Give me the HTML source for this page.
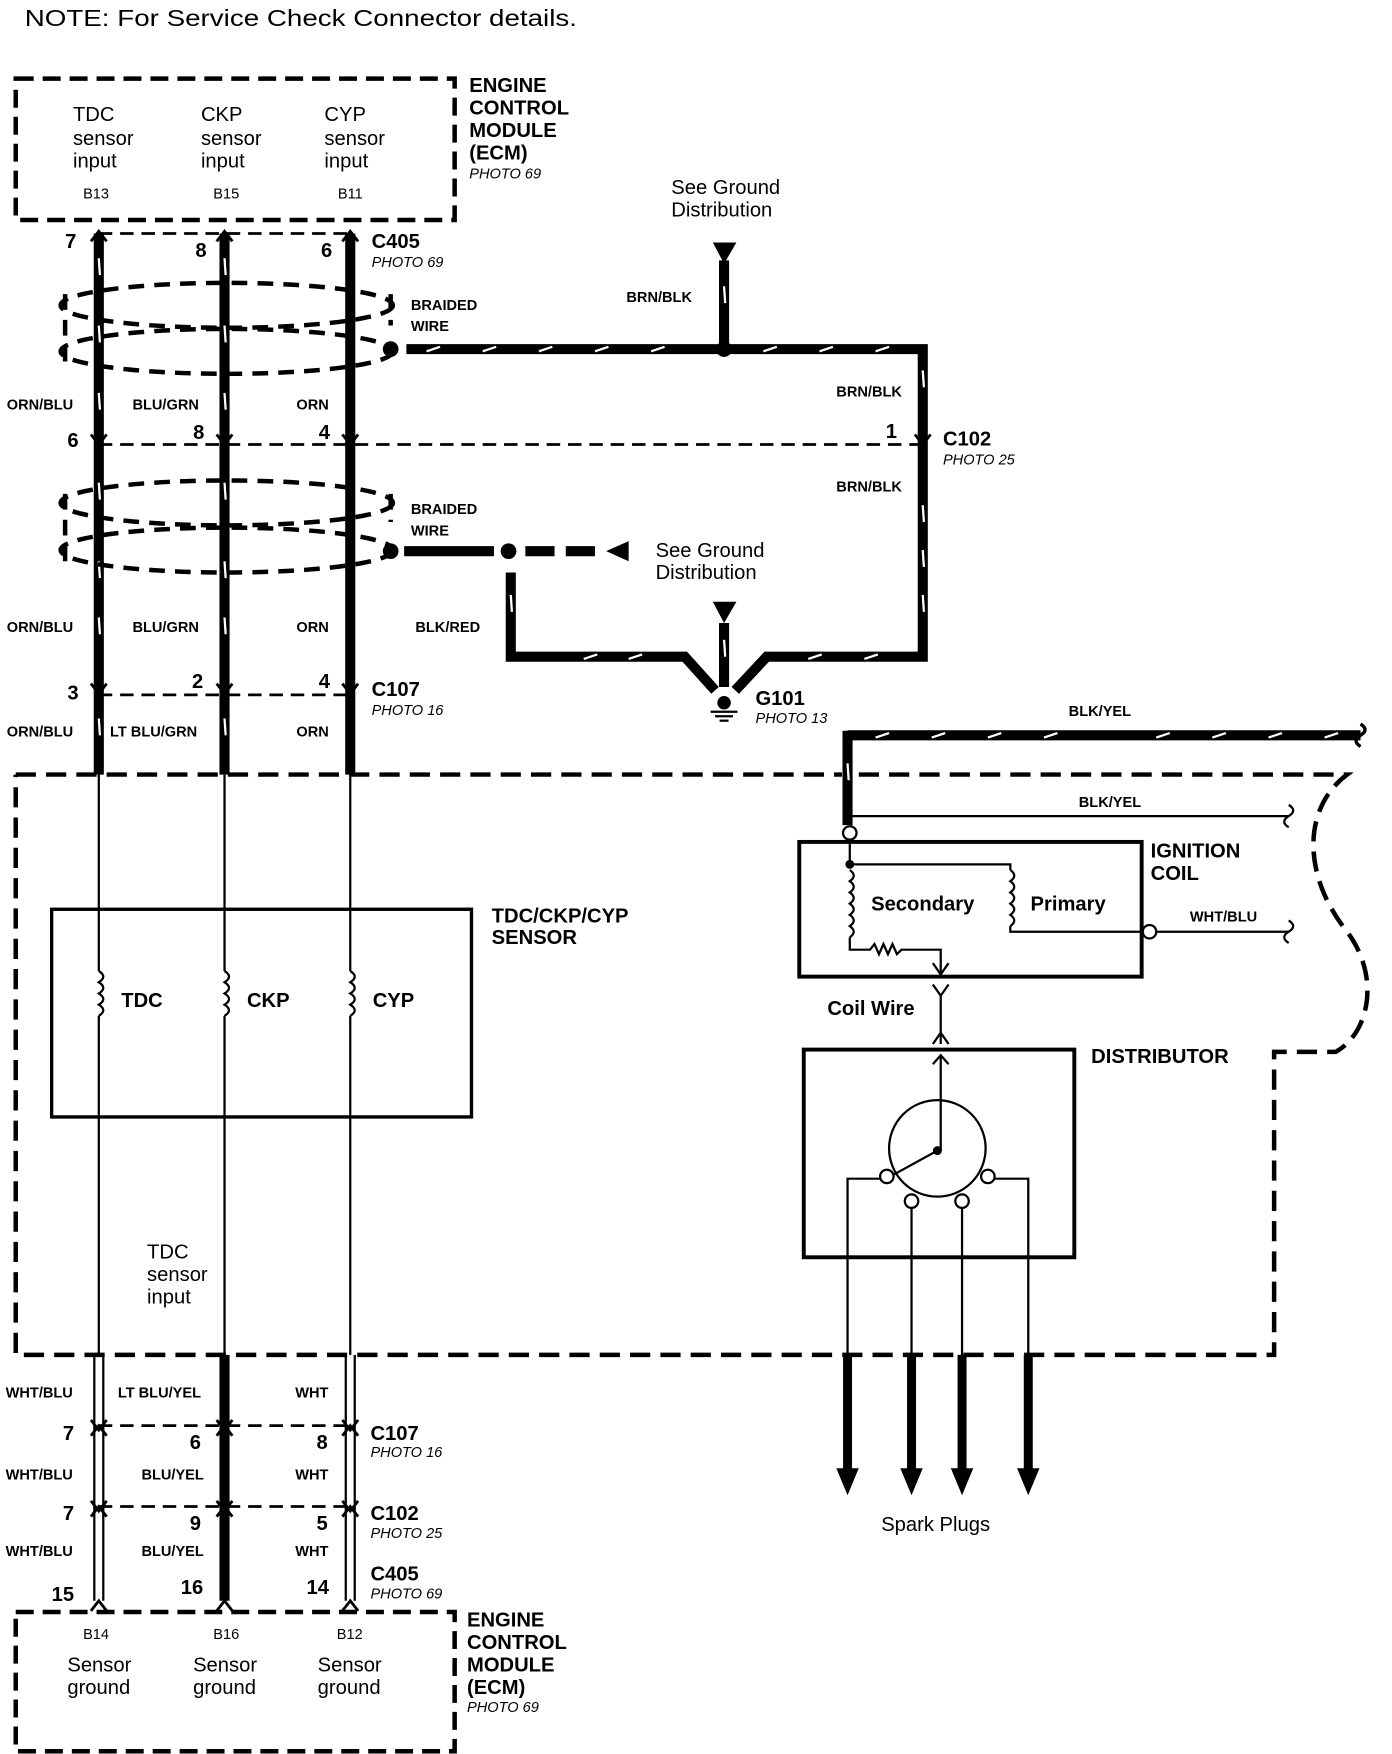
<!DOCTYPE html>
<html><head><meta charset="utf-8"><style>
html,body{margin:0;padding:0;background:#fff;}
svg{display:block;}
text{font-family:"Liberation Sans",Arial,sans-serif;fill:#000;}
.b{font-weight:bold;}
.i{font-style:italic;font-size:13px;}
.s{font-size:18px;}
.l{font-size:13px;font-weight:bold;}
.h{font-size:18px;font-weight:bold;}
</style></head><body>
<svg width="1392" height="1754" viewBox="0 0 1240 1562.5" xmlns="http://www.w3.org/2000/svg">
<defs>
<g id="rc"><path d="M-7,-9 L0,0 L7,-9" fill="none" stroke="#000" stroke-width="2.5"/></g>
<g id="rcu"><path d="M-7,9 L0,0 L7,9" fill="none" stroke="#000" stroke-width="2.5"/></g>
</defs>
<text x="22" y="23" style="font-size:21px" textLength="492" lengthAdjust="spacingAndGlyphs">NOTE: For Service Check Connector details.</text>

<!-- top ECM -->
<rect x="14" y="70" width="391" height="126" fill="none" stroke="#000" stroke-width="4" stroke-dasharray="16,8"/>
<g class="s">
<text x="65" y="108">TDC</text><text x="65" y="129">sensor</text><text x="65" y="149">input</text>
<text x="179" y="108">CKP</text><text x="179" y="129">sensor</text><text x="179" y="149">input</text>
<text x="289" y="108">CYP</text><text x="289" y="129">sensor</text><text x="289" y="149">input</text>
</g>
<text x="74" y="177" style="font-size:13px">B13</text><text x="190" y="177" style="font-size:13px">B15</text><text x="301" y="177" style="font-size:13px">B11</text>
<g class="h"><text x="418" y="82">ENGINE</text><text x="418" y="102">CONTROL</text><text x="418" y="122">MODULE</text><text x="418" y="142">(ECM)</text></g>
<text x="418" y="159" class="i">PHOTO 69</text>

<!-- thick wires top -->
<g stroke="#000" stroke-width="9">
<line x1="88" y1="208" x2="88" y2="690"/><line x1="200" y1="208" x2="200" y2="690"/><line x1="312" y1="208" x2="312" y2="690"/>
</g>
<g stroke="#fff" stroke-width="2">
<line x1="88" y1="230" x2="89" y2="245"/><line x1="88" y1="290" x2="89" y2="305"/><line x1="88" y1="350" x2="89" y2="365"/><line x1="88" y1="430" x2="89" y2="445"/><line x1="88" y1="500" x2="89" y2="515"/><line x1="88" y1="550" x2="89" y2="565"/><line x1="88" y1="640" x2="89" y2="655"/>
<line x1="200" y1="230" x2="201" y2="245"/><line x1="200" y1="290" x2="201" y2="305"/><line x1="200" y1="350" x2="201" y2="365"/><line x1="200" y1="430" x2="201" y2="445"/><line x1="200" y1="500" x2="201" y2="515"/><line x1="200" y1="550" x2="201" y2="565"/><line x1="200" y1="640" x2="201" y2="655"/>
</g>
<!-- connectors -->
<g stroke="#000" stroke-width="2.5" stroke-dasharray="12,7" fill="none">
<line x1="88" y1="208" x2="312" y2="208"/>
<line x1="88" y1="396" x2="822" y2="396"/>
<line x1="88" y1="619" x2="312" y2="619"/>
<line x1="88" y1="1270" x2="312" y2="1270"/>
<line x1="88" y1="1342" x2="312" y2="1342"/>
</g>
<use href="#rcu" x="88" y="206"/><use href="#rcu" x="200" y="206"/><use href="#rcu" x="312" y="206"/>
<use href="#rc" x="88" y="396"/><use href="#rc" x="200" y="396"/><use href="#rc" x="312" y="396"/><use href="#rc" x="822" y="396"/>
<use href="#rc" x="88" y="618"/><use href="#rc" x="200" y="618"/><use href="#rc" x="312" y="618"/>
<use href="#rcu" x="88" y="1270"/><use href="#rcu" x="200" y="1270"/><use href="#rcu" x="312" y="1270"/>
<use href="#rc" x="88" y="1274"/><use href="#rc" x="200" y="1274"/><use href="#rc" x="312" y="1274"/>
<use href="#rcu" x="88" y="1342"/><use href="#rcu" x="200" y="1342"/><use href="#rcu" x="312" y="1342"/>
<use href="#rc" x="88" y="1346"/><use href="#rc" x="200" y="1346"/><use href="#rc" x="312" y="1346"/>
<use href="#rcu" x="88" y="1426"/><use href="#rcu" x="200" y="1426"/><use href="#rcu" x="312" y="1426"/>

<g class="h">
<text x="58" y="221">7</text><text x="174" y="229">8</text><text x="286" y="229">6</text>
<text x="60" y="398">6</text><text x="172" y="391">8</text><text x="284" y="391">4</text><text x="789" y="390">1</text>
<text x="60" y="623">3</text><text x="171" y="613">2</text><text x="284" y="613">4</text>
<text x="56" y="1283">7</text><text x="169" y="1291">6</text><text x="282" y="1291">8</text>
<text x="56" y="1354">7</text><text x="169" y="1363">9</text><text x="282" y="1363">5</text>
<text x="46" y="1426">15</text><text x="161" y="1420">16</text><text x="273" y="1420">14</text>
<text x="331" y="221">C405</text><text x="840" y="397">C102</text><text x="331" y="620">C107</text><text x="673" y="628">G101</text>
<text x="330" y="1283">C107</text><text x="330" y="1354">C102</text><text x="330" y="1408">C405</text>
</g>
<text x="331" y="238" class="i">PHOTO 69</text><text x="840" y="414" class="i">PHOTO 25</text><text x="331" y="637" class="i">PHOTO 16</text><text x="673" y="644" class="i">PHOTO 13</text>
<text x="330" y="1298" class="i">PHOTO 16</text><text x="330" y="1370" class="i">PHOTO 25</text><text x="330" y="1424" class="i">PHOTO 69</text>

<!-- braids -->
<g fill="none" stroke="#000" stroke-width="4" stroke-dasharray="14,9">
<ellipse cx="202" cy="272" rx="148" ry="20"/><ellipse cx="202" cy="313" rx="148" ry="20"/>
<line x1="58" y1="262" x2="58" y2="322"/><line x1="348" y1="262" x2="348" y2="290"/>
<ellipse cx="202" cy="448" rx="148" ry="20"/><ellipse cx="202" cy="490" rx="148" ry="20"/>
<line x1="58" y1="440" x2="58" y2="500"/><line x1="348" y1="440" x2="348" y2="465"/>
</g>
<g class="l">
<text x="366" y="276">BRAIDED</text><text x="366" y="295">WIRE</text>
<text x="366" y="458">BRAIDED</text><text x="366" y="477">WIRE</text>
<text x="6" y="365">ORN/BLU</text><text x="118" y="365">BLU/GRN</text><text x="264" y="365">ORN</text>
<text x="6" y="563">ORN/BLU</text><text x="118" y="563">BLU/GRN</text><text x="264" y="563">ORN</text><text x="370" y="563">BLK/RED</text>
<text x="6" y="656">ORN/BLU</text><text x="98" y="656">LT BLU/GRN</text><text x="264" y="656">ORN</text>
<text x="558" y="269">BRN/BLK</text><text x="745" y="353">BRN/BLK</text><text x="745" y="438">BRN/BLK</text>
<text x="952" y="638">BLK/YEL</text><text x="961" y="719">BLK/YEL</text><text x="1060" y="821">WHT/BLU</text>
<text x="5" y="1245">WHT/BLU</text><text x="105" y="1245">LT BLU/YEL</text><text x="263" y="1245">WHT</text>
<text x="5" y="1318">WHT/BLU</text><text x="126" y="1318">BLU/YEL</text><text x="263" y="1318">WHT</text>
<text x="5" y="1386">WHT/BLU</text><text x="126" y="1386">BLU/YEL</text><text x="263" y="1386">WHT</text>
</g>

<!-- ground wires -->
<g fill="none" stroke="#000" stroke-width="9">
<polyline points="362,311 822,311 822,585 683,585 655,615"/>
<line x1="645" y1="311" x2="645" y2="232"/>
<line x1="360" y1="491" x2="440" y2="491"/>
<polyline points="455,510 455,585 610,585 637,615"/>
<line x1="645" y1="555" x2="645" y2="612"/>
<line x1="755" y1="655" x2="1212" y2="655"/>
<line x1="755" y1="651" x2="755" y2="735"/>
</g>
<line x1="468" y1="491" x2="540" y2="491" stroke="#000" stroke-width="9" stroke-dasharray="26,10"/>
<g stroke="#fff" stroke-width="2">
<line x1="380" y1="313" x2="392" y2="309"/><line x1="430" y1="313" x2="442" y2="309"/><line x1="480" y1="313" x2="492" y2="309"/><line x1="530" y1="313" x2="542" y2="309"/><line x1="580" y1="313" x2="592" y2="309"/><line x1="680" y1="313" x2="692" y2="309"/><line x1="730" y1="313" x2="742" y2="309"/><line x1="780" y1="313" x2="792" y2="309"/>
<line x1="822" y1="330" x2="823" y2="345"/><line x1="822" y1="450" x2="823" y2="465"/><line x1="822" y1="490" x2="823" y2="505"/><line x1="822" y1="530" x2="823" y2="545"/>
<line x1="645" y1="255" x2="646" y2="270"/><line x1="455" y1="530" x2="456" y2="545"/><line x1="645" y1="570" x2="646" y2="585"/>
<line x1="520" y1="587" x2="532" y2="583"/><line x1="560" y1="587" x2="572" y2="583"/><line x1="720" y1="587" x2="732" y2="583"/><line x1="770" y1="587" x2="782" y2="583"/>
<line x1="780" y1="657" x2="792" y2="653"/><line x1="830" y1="657" x2="842" y2="653"/><line x1="880" y1="657" x2="892" y2="653"/><line x1="930" y1="657" x2="942" y2="653"/><line x1="1030" y1="657" x2="1042" y2="653"/><line x1="1080" y1="657" x2="1092" y2="653"/><line x1="1130" y1="657" x2="1142" y2="653"/><line x1="1180" y1="657" x2="1192" y2="653"/>
<line x1="755" y1="680" x2="756" y2="695"/>
</g>
<path d="M1212,645 q8,5 0,10 q-8,5 0,10" fill="none" stroke="#000" stroke-width="3"/>
<circle cx="348" cy="311" r="7"/><circle cx="645" cy="311" r="7"/><circle cx="348" cy="491" r="7"/><circle cx="453" cy="491" r="7"/>
<polygon points="635,216 656,216 645,235"/><polygon points="540,491 560,482 560,500"/><polygon points="635,536 656,536 645,555"/>
<circle cx="645" cy="626" r="6"/>
<g stroke="#000" stroke-width="2"><line x1="633" y1="634" x2="657" y2="634"/><line x1="637" y1="638" x2="653" y2="638"/><line x1="641" y1="642" x2="649" y2="642"/></g>
<g style="font-size:18px"><text x="598" y="173">See Ground</text><text x="598" y="193">Distribution</text><text x="584" y="496">See Ground</text><text x="584" y="516">Distribution</text></g>

<!-- big dashed boundary -->
<path d="M14,690 L750,690 M765,690 L1200,690 C1160,720 1160,780 1200,830 C1230,870 1220,920 1190,937 L1135,937 L1135,1207 L14,1207 L14,690" fill="none" stroke="#000" stroke-width="4" stroke-dasharray="18,9"/>

<!-- thin wires through sensor area -->
<g stroke="#000" stroke-width="2" fill="none">
<line x1="88" y1="690" x2="88" y2="1207"/><line x1="200" y1="690" x2="200" y2="1207"/><line x1="312" y1="690" x2="312" y2="1207"/>
<line x1="84" y1="1207" x2="84" y2="1426"/><line x1="92" y1="1207" x2="92" y2="1426"/>
<line x1="308" y1="1207" x2="308" y2="1426"/><line x1="316" y1="1207" x2="316" y2="1426"/>
</g>
<line x1="200" y1="1207" x2="200" y2="1426" stroke="#000" stroke-width="9"/>
<rect x="46" y="810" width="374" height="185" fill="#fff" stroke="#000" stroke-width="3"/>
<g stroke="#000" stroke-width="2" fill="none">
<line x1="88" y1="810" x2="88" y2="865"/><path d="M88,865 q8,5 0,10 q8,5 0,10 q8,5 0,10 q8,5 0,10"/><line x1="88" y1="905" x2="88" y2="995"/>
<line x1="200" y1="810" x2="200" y2="865"/><path d="M200,865 q8,5 0,10 q8,5 0,10 q8,5 0,10 q8,5 0,10"/><line x1="200" y1="905" x2="200" y2="995"/>
<line x1="312" y1="810" x2="312" y2="865"/><path d="M312,865 q8,5 0,10 q8,5 0,10 q8,5 0,10 q8,5 0,10"/><line x1="312" y1="905" x2="312" y2="995"/>
</g>
<g class="h"><text x="108" y="897">TDC</text><text x="220" y="897">CKP</text><text x="332" y="897">CYP</text>
<text x="438" y="822">TDC/CKP/CYP</text><text x="438" y="841">SENSOR</text></g>
<g class="s"><text x="131" y="1121">TDC</text><text x="131" y="1141">sensor</text><text x="131" y="1161">input</text></g>

<!-- ignition coil -->
<g stroke="#000" stroke-width="2" fill="none">
<polyline points="757,727 1148,727"/>
<path d="M1148,717 q8,5 0,10 q-8,5 0,10"/>
<line x1="757" y1="748" x2="757" y2="770"/>
<polyline points="757,770 900,770 900,775"/>
<path d="M900,775 q7,5 0,10 q7,5 0,10 q7,5 0,10 q7,5 0,10 q7,5 0,10"/>
<polyline points="900,825 900,830 1018,830"/>
<line x1="1030" y1="830" x2="1148" y2="830"/>
<path d="M1148,820 q8,5 0,10 q-8,5 0,10"/>
<path d="M757,775 q7,5 0,10 q7,5 0,10 q7,5 0,10 q7,5 0,10 q7,5 0,10 q7,5 0,10"/>
<polyline points="757,835 757,846 775,846 779,841 783,850 787,841 791,850 795,841 799,850 803,846 838,846 838,868"/>
<polyline points="831,858 838,868 845,858"/>
<polyline points="831,877 838,887 845,877"/>
<line x1="838" y1="885" x2="838" y2="930"/>
<polyline points="831,930 838,920 845,930"/>
<line x1="838" y1="940" x2="838" y2="1025"/>
<polyline points="831,948 838,940 845,948"/>
<circle cx="835" cy="1023" r="43"/>
<line x1="835" y1="1025" x2="795" y2="1047"/>
<polyline points="755,1210 755,1050 784,1050"/>
<polyline points="916,1210 916,1050 886,1050"/>
<line x1="812" y1="1076" x2="812" y2="1210"/><line x1="857" y1="1076" x2="857" y2="1210"/>
</g>
<rect x="712" y="750" width="305" height="120" fill="none" stroke="#000" stroke-width="3.5"/>
<rect x="716" y="935" width="241" height="185" fill="none" stroke="#000" stroke-width="3.5"/>
<g fill="#fff" stroke="#000" stroke-width="2">
<circle cx="757" cy="742" r="6"/><circle cx="1024" cy="830" r="6"/>
<circle cx="790" cy="1048" r="6"/><circle cx="880" cy="1048" r="6"/><circle cx="812" cy="1070" r="6"/><circle cx="857" cy="1070" r="6"/>
</g>
<circle cx="757" cy="770" r="4"/><circle cx="835" cy="1025" r="4"/>
<g class="h"><text x="1025" y="764">IGNITION</text><text x="1025" y="784">COIL</text>
<text x="776" y="811">Secondary</text><text x="918" y="811">Primary</text>
<text x="737" y="904">Coil Wire</text><text x="972" y="947">DISTRIBUTOR</text></g>
<g stroke="#000" stroke-width="8">
<line x1="755" y1="1207" x2="755" y2="1312"/><line x1="812" y1="1207" x2="812" y2="1312"/><line x1="857" y1="1207" x2="857" y2="1312"/><line x1="916" y1="1207" x2="916" y2="1312"/>
</g>
<polygon points="745,1308 765,1308 755,1332"/><polygon points="802,1308 822,1308 812,1332"/><polygon points="847,1308 867,1308 857,1332"/><polygon points="906,1308 926,1308 916,1332"/>
<text x="785" y="1364" style="font-size:18px">Spark Plugs</text>

<!-- bottom ECM -->
<rect x="14" y="1436" width="391" height="124" fill="none" stroke="#000" stroke-width="4" stroke-dasharray="16,8"/>
<text x="74" y="1460" style="font-size:13px">B14</text><text x="190" y="1460" style="font-size:13px">B16</text><text x="300" y="1460" style="font-size:13px">B12</text>
<g class="s"><text x="60" y="1489">Sensor</text><text x="60" y="1509">ground</text>
<text x="172" y="1489">Sensor</text><text x="172" y="1509">ground</text>
<text x="283" y="1489">Sensor</text><text x="283" y="1509">ground</text></g>
<g class="h"><text x="416" y="1449">ENGINE</text><text x="416" y="1469">CONTROL</text><text x="416" y="1489">MODULE</text><text x="416" y="1509">(ECM)</text></g>
<text x="416" y="1525" class="i">PHOTO 69</text>
</svg>
</body></html>
